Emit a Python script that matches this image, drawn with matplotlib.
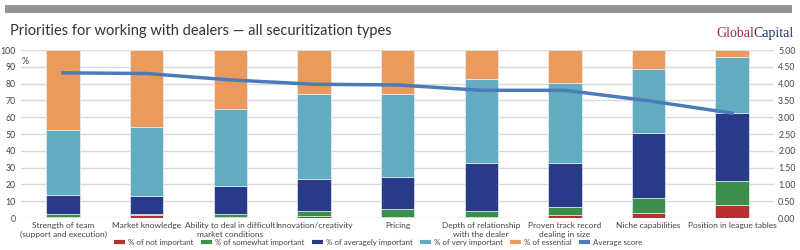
import numpy as np
import matplotlib
matplotlib.use("Agg")
import matplotlib.pyplot as plt
from matplotlib.lines import Line2D

plt.rcParams['font.family'] = ['Lato', 'DejaVu Sans']

# data
categories = [
    "Strength of team\n(support and execution)",
    "Market knowledge",
    "Ability to deal in difficult\nmarket conditions",
    "Innovation/creativity",
    "Pricing",
    "Depth of relationship\nwith the dealer",
    "Proven track record\ndealing in size",
    "Niche capabilities",
    "Position in league tables",
]
not_important = [0.5, 1.5, 0.5, 0.9, 0.4, 0.4, 1.6, 2.8, 7.5]
somewhat_important = [1.9, 1.1, 1.9, 3.5, 5.1, 3.8, 4.7, 8.9, 14.7]
averagely_important = [11.3, 10.3, 16.8, 18.7, 19.0, 28.7, 26.2, 38.8, 40.2]
very_important = [38.8, 41.4, 45.6, 50.6, 49.2, 49.7, 47.7, 38.0, 33.2]
essential = [47.5, 45.7, 35.2, 26.3, 26.3, 17.4, 19.8, 11.5, 4.4]
average_score = [4.32, 4.30, 4.11, 3.98, 3.96, 3.80, 3.80, 3.49, 3.12]

series = [
    ("% of not important", not_important, "#b5302f"),
    ("% of somewhat important", somewhat_important, "#3a8f4b"),
    ("% of averagely important", averagely_important, "#283a88"),
    ("% of very important", very_important, "#62acc2"),
    ("% of essential", essential, "#ea9a5c"),
]
line_color = "#4c7bbb"
text_color = "#444444"

fig = plt.figure(figsize=(8, 2.5), dpi=100)

# grey band on top
fig.patches.append(plt.Rectangle((0.006, 0.948), 0.984, 0.03, transform=fig.transFigure,
                                 color="#939598", lw=0))
fig.text(0.012, 0.875, "Priorities for working with dealers \u2014 all securitization types",
         fontsize=10.5, color="#333333", va="center", ha="left")
# logo
t1 = fig.text(0.895, 0.865, "Global", fontsize=10, color="#a8243a", family="Liberation Serif",
              va="center", ha="left")
fig.canvas.draw()
bb = t1.get_window_extent()
fig.text(bb.x1 / fig.bbox.width, 0.865, "Capital", fontsize=10, color="#1f3a6b",
         family="Liberation Serif", va="center", ha="left")

ax = fig.add_axes([0.0265, 0.128, 0.941, 0.672])
x = np.arange(len(categories))
bottom = np.zeros(len(categories))
for name, vals, col in series:
    ax.bar(x, vals, 0.4, bottom=bottom, color=col, edgecolor="#e6eef5", linewidth=0.5, zorder=2)
    bottom += np.array(vals)

ax.set_xlim(-0.5, len(categories) - 0.5)
ax.set_ylim(0, 100)
ax.set_yticks(np.arange(0, 101, 10))
ax.grid(axis="y", color="#d9d9d9", lw=1, zorder=0)
ax.set_axisbelow(True)
for s in ax.spines.values():
    s.set_visible(False)
ax.tick_params(axis="y", length=0, labelsize=6.3, labelcolor=text_color, pad=4)
ax.tick_params(axis="x", length=0, labelsize=6.0, labelcolor=text_color, pad=3)
ax.set_xticks(x)
ax.set_xticklabels(categories, linespacing=1.25, va="top")
ax.text(0.0, 0.93, "%", transform=ax.transAxes, fontsize=6.3, color=text_color,
        ha="left", va="center")

ax2 = ax.twinx()
ax2.plot(x, average_score, color=line_color, lw=2.5, zorder=3)
ax2.set_ylim(0, 5)
ax2.set_yticks(np.arange(0, 5.01, 0.5))
ax2.set_yticklabels([f"{v:.2f}" for v in np.arange(0, 5.01, 0.5)])
ax2.tick_params(axis="y", length=0, labelsize=6.3, labelcolor=text_color, pad=3)
for s in ax2.spines.values():
    s.set_visible(False)

handles = [Line2D([0, 1], [0, 0], color=col, lw=3, solid_capstyle="butt") for _, _, col in series]
handles.append(Line2D([0, 1], [0, 0], color=line_color, lw=3, solid_capstyle="butt"))
labels = [n for n, _, _ in series] + ["Average score"]
fig.legend(handles, labels, loc="center", bbox_to_anchor=(0.473, 0.03), ncol=6,
           frameon=False, fontsize=5.7, handlelength=1.4, handletextpad=0.4,
           columnspacing=0.9, labelcolor=text_color)

fig.savefig("out.png", dpi=100)
